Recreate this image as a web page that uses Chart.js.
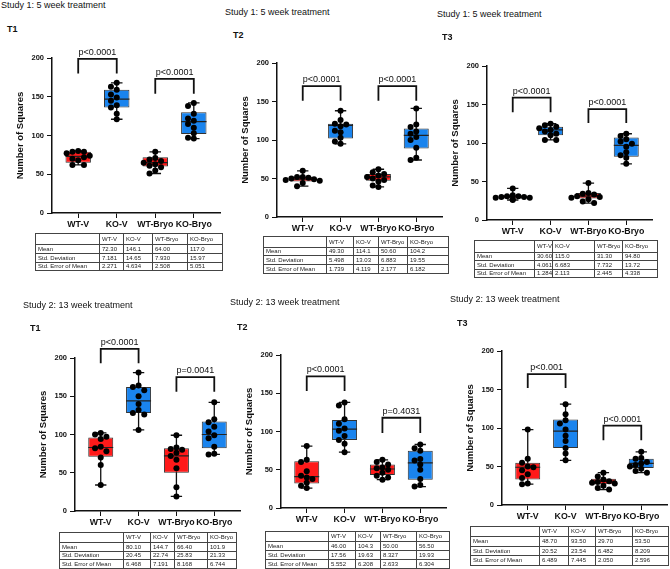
<!DOCTYPE html>
<html>
<head>
<meta charset="utf-8">
<script src="https://cdn.jsdelivr.net/npm/chart.js@4.4.1/dist/chart.umd.min.js"></script>
<style>
  body { margin: 0; width: 670px; height: 569px; position: relative; background: #fff; overflow: hidden;
         font-family: "Liberation Sans", Arial, sans-serif; color: #111; }
  .lbl { position: absolute; font-size: 9px; line-height: 10px; white-space: nowrap; }
  .tag { font-weight: bold; }
  canvas { position: absolute; }
  table { position: absolute; border-collapse: collapse; table-layout: fixed; font-size: 6px; border: 1.5px solid #222; }
  td { border: 1px solid #444; padding: 0 0 0 2px; line-height: 7px; white-space: nowrap; overflow: hidden; color: #222; }
</style>
</head>
<body>
<script>
const groups = ['WT-V', 'KO-V', 'WT-Bryo', 'KO-Bryo'];
const rowNames = ['Mean', 'Std. Deviation', 'Std. Error of Mean'];
const boxColors = ['#ff1a1a', '#1a84ee', '#ff1a1a', '#1a84ee'];

// Study 1, T1
const s1t1Points = [
  [80, 79, 79, 77, 68, 70, 72, 74, 62, 62],
  [168, 163, 159, 153, 149, 145, 139, 136, 128, 121],
  [79, 71, 69, 67, 65, 63, 61, 59, 55, 51],
  [142, 138, 128, 122, 119, 115, 110, 103, 97, 96]
];
// whisker low, q1, median, q3, whisker high
const s1t1Box = [[62, 65, 73, 79, 80], [121, 136, 147, 159, 168], [51, 60, 65, 72, 79], [96, 102, 118, 130, 142]];
const s1t1Brackets = [[199, 180], [173, 154]];
const s1t1P = ['p<0.0001', 'p<0.0001'];
const s1t1Table = [['72.30', '146.1', '64.00', '117.0'], ['7.181', '14.65', '7.930', '15.97'], ['2.271', '4.634', '2.508', '5.051']];

// Study 1, T2
const s1t2Points = [
  [60, 52, 52, 51, 50, 49, 48, 47, 44, 40],
  [138, 126, 121, 120, 118, 112, 110, 103, 98, 95],
  [62, 58, 56, 54, 52, 50, 48, 46, 41, 39],
  [141, 120, 117, 111, 108, 104, 100, 90, 77, 74]
];
const s1t2Box = [[40, 46, 49, 52, 60], [95, 102, 119, 121, 138], [39, 47, 52, 56, 62], [74, 89, 106, 115, 141]];
const s1t2Brackets = [[170, 151], [170, 151]];
const s1t2P = ['p<0.0001', 'p<0.0001'];
const s1t2Table = [['49.30', '114.1', '50.60', '104.2'], ['5.498', '13.03', '6.883', '19.55'], ['1.739', '4.119', '2.177', '6.182']];

// Study 1, T3
const s1t3Points = [
  [41, 32, 31, 31, 30, 30, 29, 29, 27, 26],
  [125, 123, 121, 119, 117, 115, 112, 110, 104, 104],
  [48, 35, 34, 33, 31, 30, 29, 27, 24, 22],
  [112, 109, 105, 102, 99, 95, 88, 84, 81, 73]
];
const s1t3Box = [[26, 28, 30, 32, 41], [104, 110, 117, 121, 125], [22, 28, 31, 35, 48], [73, 82, 97, 107, 112]];
const s1t3Brackets = [[159, 140], [144, 126]];
const s1t3P = ['p<0.0001', 'p<0.0001'];
const s1t3Table = [['30.60', '115.0', '31.30', '94.80'], ['4.061', '6.683', '7.732', '13.72'], ['1.284', '2.113', '2.445', '4.338']];

// Study 2, T1
const s2t1Points = [
  [102, 100, 97, 94, 84, 82, 78, 70, 60, 34],
  [181, 164, 162, 158, 150, 140, 132, 128, 126, 106],
  [99, 83, 81, 80, 76, 72, 67, 56, 31, 19],
  [142, 120, 116, 110, 104, 99, 95, 84, 75, 74]
];
const s2t1Box = [[34, 71, 83, 96, 102], [106, 128, 144, 162, 181], [19, 50, 72, 82, 99], [74, 82, 100, 117, 142]];
const s2t1Brackets = [[212, 193], [175, 156]];
const s2t1P = ['p<0.0001', 'p=0.0041'];
const s2t1Table = [['80.10', '144.7', '66.40', '101.9'], ['20.45', '22.74', '25.83', '21.33'], ['6.468', '7.191', '8.168', '6.744']];

// Study 2, T2
const s2t2Points = [
  [81, 63, 60, 48, 42, 40, 38, 33, 29, 26],
  [138, 134, 116, 110, 104, 101, 94, 89, 84, 73],
  [63, 60, 57, 53, 52, 50, 46, 42, 40, 37],
  [83, 78, 75, 64, 62, 57, 50, 38, 30, 28]
];
const s2t2Box = [[26, 32, 41, 61, 81], [73, 89, 103, 115, 138], [37, 43, 51, 57, 63], [28, 37, 59, 75, 83]];
const s2t2Brackets = [[172, 153], [118, 98]];
const s2t2P = ['p<0.0001', 'p=0.4031'];
const s2t2Table = [['46.00', '104.3', '50.00', '56.50'], ['17.56', '19.63', '8.327', '19.93'], ['5.552', '6.208', '2.633', '6.304']];

// Study 2, T3
const s2t3Points = [
  [98, 60, 55, 50, 49, 45, 40, 35, 28, 27],
  [131, 118, 110, 106, 98, 90, 83, 74, 67, 58],
  [42, 37, 33, 31, 30, 29, 28, 25, 22, 20],
  [69, 61, 60, 56, 54, 52, 50, 47, 44, 42]
];
const s2t3Box = [[27, 33, 49, 55, 98], [58, 74, 96, 111, 131], [20, 27, 31, 34, 42], [42, 48, 54, 60, 69]];
const s2t3Brackets = [[170, 152], [103, 84]];
const s2t3P = ['p<0.001', 'p<0.0001'];
const s2t3Table = [['48.70', '93.50', '29.70', '53.50'], ['20.52', '23.54', '6.482', '8.209'], ['6.489', '7.445', '2.050', '2.596']];

const panels = [
  { title: 'Study 1: 5 week treatment', tag: 'T1', pts: s1t1Points, box: s1t1Box, br: s1t1Brackets, p: s1t1P, tbl: s1t1Table },
  { title: 'Study 1: 5 week treatment', tag: 'T2', pts: s1t2Points, box: s1t2Box, br: s1t2Brackets, p: s1t2P, tbl: s1t2Table },
  { title: 'Study 1: 5 week treatment', tag: 'T3', pts: s1t3Points, box: s1t3Box, br: s1t3Brackets, p: s1t3P, tbl: s1t3Table },
  { title: 'Study 2: 13 week treatment', tag: 'T1', pts: s2t1Points, box: s2t1Box, br: s2t1Brackets, p: s2t1P, tbl: s2t1Table },
  { title: 'Study 2: 13 week treatment', tag: 'T2', pts: s2t2Points, box: s2t2Box, br: s2t2Brackets, p: s2t2P, tbl: s2t2Table },
  { title: 'Study 2: 13 week treatment', tag: 'T3', pts: s2t3Points, box: s2t3Box, br: s2t3Brackets, p: s2t3P, tbl: s2t3Table }
];

// page layout: plot area, title / tag positions, table box
const layouts = [
  { plot: [52, 58, 213, 170], title: [1, 5], tag: [7, 29], table: [35, 233], cols: [64, 24, 29, 35, 35], rows: [11, 9, 9, 8] },
  { plot: [277, 63, 217, 167], title: [225, 12], tag: [233, 35], table: [263, 236], cols: [63, 27, 25, 29, 41], rows: [11, 8, 9, 9] },
  { plot: [487, 66, 220, 167], title: [437, 14], tag: [442, 37], table: [474, 240], cols: [60, 18, 42, 28, 35], rows: [12, 8, 9, 8] },
  { plot: [75, 358, 511, 167], title: [23, 305], tag: [30, 328], table: [59, 532], cols: [64, 27, 24, 33, 29], rows: [10, 9, 8, 9] },
  { plot: [281, 355, 508, 167], title: [230, 302], tag: [237, 327], table: [265, 531], cols: [63, 27, 25, 36, 33], rows: [10, 9, 9, 9] },
  { plot: [502, 351, 505, 167], title: [450, 299], tag: [457, 323], table: [470, 526], cols: [69, 29, 27, 37, 36], rows: [10, 10, 9, 10] }
];

const FONT = '"Liberation Sans", Arial, sans-serif';
Chart.defaults.font.family = FONT;
Chart.defaults.color = '#111';
const PAD_TOP = 34;
const AXIS_W = 40;
const AXIS_H = 22;

// spread points sideways so they don't sit on top of each other
function swarm(vals) {
  const placed = [];
  const cands = [0, -0.15, 0.15, -0.3, 0.3, -0.45, 0.45];
  return vals.map(v => {
    let off = cands.find(c => placed.every(p => Math.abs(p.v - v) >= 7 || Math.abs(p.o - c) >= 0.14));
    if (off === undefined) off = 0;
    placed.push({ v: v, o: off });
    return off;
  });
}

const pLabels = {
  id: 'pLabels',
  afterDatasetsDraw(chart, args, opts) {
    const { ctx, scales: { x, y } } = chart;
    ctx.save();
    ctx.font = '9px ' + FONT;
    ctx.fillStyle = '#111';
    ctx.textAlign = 'center';
    ctx.textBaseline = 'bottom';
    opts.brackets.forEach((b, k) => {
      ctx.fillText(opts.text[k], x.getPixelForValue(2 * k + 0.5), y.getPixelForValue(b[0]) - 2);
    });
    ctx.restore();
  }
};

function addText(txt, x, y, cls) {
  const d = document.createElement('div');
  d.className = cls;
  d.textContent = txt;
  d.style.left = x + 'px';
  d.style.top = (y - 5) + 'px';
  document.body.appendChild(d);
}

function addTable(vals, L) {
  const t = document.createElement('table');
  t.style.left = L.table[0] + 'px';
  t.style.top = L.table[1] + 'px';
  t.style.width = L.cols.reduce((a, b) => a + b, 0) + 'px';
  const cg = document.createElement('colgroup');
  L.cols.forEach(w => {
    const c = document.createElement('col');
    c.style.width = w + 'px';
    cg.appendChild(c);
  });
  t.appendChild(cg);
  const rows = [[''].concat(groups)].concat(rowNames.map((r, k) => [r].concat(vals[k])));
  rows.forEach((r, k) => {
    const tr = t.insertRow();
    tr.style.height = L.rows[k] + 'px';
    r.forEach(txt => { tr.insertCell().textContent = txt; });
  });
  document.body.appendChild(t);
}

function drawPanel(d, L) {
  const [left, top, bottom, w] = L.plot;
  const cv = document.createElement('canvas');
  cv.width = AXIS_W + w + 2;
  cv.height = PAD_TOP + (bottom - top) + AXIS_H + 2;
  cv.style.left = (left - AXIS_W) + 'px';
  cv.style.top = (top - PAD_TOP) + 'px';
  document.body.appendChild(cv);

  const whisk = [], meds = [], dots = [], brk = [];
  d.box.forEach((b, i) => {
    whisk.push({ x: i, y: b[0] }, { x: i, y: b[4] }, { x: i, y: null },
      { x: i - 0.15, y: b[4] }, { x: i + 0.15, y: b[4] }, { x: i, y: null },
      { x: i - 0.15, y: b[0] }, { x: i + 0.15, y: b[0] }, { x: i, y: null });
    meds.push({ x: i - 0.33, y: b[2] }, { x: i + 0.33, y: b[2] }, { x: i, y: null });
  });
  d.pts.forEach((vals, i) => {
    const offs = swarm(vals);
    vals.forEach((v, k) => dots.push({ x: i + offs[k], y: v }));
  });
  d.br.forEach((b, k) => {
    const a = 2 * k, c = 2 * k + 1;
    brk.push({ x: a, y: b[1] }, { x: a, y: b[0] }, { x: c, y: b[0] }, { x: c, y: b[1] }, { x: c, y: null });
  });

  new Chart(cv, {
    type: 'bar',
    data: {
      datasets: [
        { type: 'line', data: whisk, borderColor: '#111', borderWidth: 1.3, pointRadius: 0, spanGaps: false, order: 4 },
        { type: 'bar', data: d.box.map((b, i) => ({ x: i, y: [b[1], b[3]] })), backgroundColor: boxColors,
          borderColor: '#333', borderWidth: 1, borderSkipped: false, barPercentage: 0.66, categoryPercentage: 1, order: 3 },
        { type: 'line', data: meds, borderColor: '#222', borderWidth: 1.2, pointRadius: 0, spanGaps: false, order: 2 },
        { type: 'scatter', data: dots, backgroundColor: '#000', borderColor: '#000', pointRadius: 3, borderWidth: 0, order: 1, clip: false },
        { type: 'line', data: brk, borderColor: '#111', borderWidth: 1.8, pointRadius: 0, spanGaps: false, order: 0, clip: false }
      ]
    },
    options: {
      responsive: false,
      animation: false,
      devicePixelRatio: 1,
      layout: { padding: { top: PAD_TOP, right: 2, bottom: 2, left: 0 } },
      plugins: { legend: { display: false }, tooltip: { enabled: false }, pLabels: { brackets: d.br, text: d.p } },
      scales: {
        x: {
          type: 'linear', min: -0.68, max: 3.68, offset: false,
          afterBuildTicks: s => { s.ticks = groups.map((g, i) => ({ value: i })); },
          afterFit: s => { s.height = AXIS_H; },
          ticks: { autoSkip: false, maxRotation: 0, minRotation: 0, padding: 1, color: '#111',
                   font: { size: 8.8, weight: 'bold' }, callback: v => groups[v] },
          grid: { drawOnChartArea: false, offset: false, color: '#111', tickLength: 5 },
          border: { color: '#111', width: 1.5 }
        },
        y: {
          min: 0, max: 200,
          afterFit: s => { s.width = AXIS_W; },
          ticks: { stepSize: 50, padding: 3, color: '#111', font: { size: 7.5, weight: 'bold' } },
          grid: { drawOnChartArea: false, color: '#111', tickLength: 5 },
          border: { color: '#111', width: 1.5 },
          title: { display: true, text: 'Number of Squares', color: '#111', padding: { top: 3, bottom: 0 },
                   font: { size: 9.5, weight: 'bold' } }
        }
      }
    },
    plugins: [pLabels]
  });
}

panels.forEach((d, k) => {
  const L = layouts[k];
  addText(d.title, L.title[0], L.title[1], 'lbl');
  addText(d.tag, L.tag[0], L.tag[1], 'lbl tag');
  drawPanel(d, L);
  addTable(d.tbl, L);
});
</script>
</body>
</html>
